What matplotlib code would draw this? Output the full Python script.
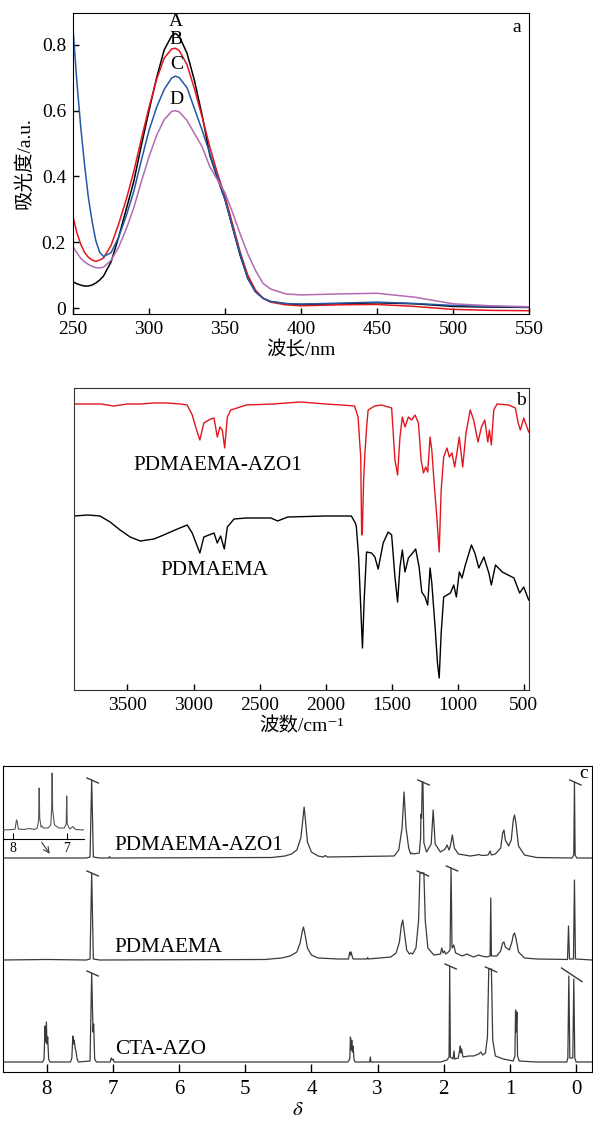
import matplotlib
matplotlib.use("Agg")
import matplotlib.pyplot as plt

plt.rcParams["font.family"] = ["Liberation Serif", "Noto Sans CJK SC", "DejaVu Sans"]
plt.rcParams["mathtext.fontset"] = "stix"
plt.rcParams["axes.unicode_minus"] = False

# ---- (a) UV-vis absorbance ----
wavelength = [250, 252.5, 255, 257.5, 260, 262.5, 265, 267.5, 270, 275, 280, 285, 290,
              295, 300, 305, 310, 315, 317.5, 320, 325, 330, 335, 340, 345, 350, 355,
              360, 365, 370, 375, 380, 390, 400, 425, 450, 475, 500, 525, 550]
abs_A = [0.080, 0.074, 0.070, 0.067, 0.067, 0.070, 0.076, 0.085, 0.097, 0.140, 0.215,
         0.300, 0.385, 0.495, 0.600, 0.700, 0.785, 0.828, 0.835, 0.825, 0.775, 0.690,
         0.585, 0.465, 0.395, 0.330, 0.245, 0.160, 0.090, 0.050, 0.030, 0.020, 0.013,
         0.011, 0.013, 0.016, 0.013, 0.005, 0.003, 0.002]
abs_B = [0.278, 0.230, 0.195, 0.170, 0.155, 0.146, 0.142, 0.146, 0.152, 0.190, 0.255,
         0.330, 0.415, 0.515, 0.610, 0.695, 0.760, 0.788, 0.790, 0.782, 0.740, 0.665,
         0.580, 0.490, 0.410, 0.340, 0.255, 0.170, 0.100, 0.055, 0.030, 0.018, 0.010,
         0.007, 0.010, 0.011, 0.005, -0.004, -0.007, -0.008]
abs_C = [0.850, 0.690, 0.555, 0.440, 0.340, 0.265, 0.205, 0.170, 0.157, 0.168, 0.215,
         0.280, 0.355, 0.450, 0.540, 0.610, 0.665, 0.700, 0.705, 0.700, 0.670, 0.605,
         0.540, 0.470, 0.400, 0.330, 0.245, 0.165, 0.090, 0.050, 0.030, 0.020, 0.014,
         0.012, 0.015, 0.018, 0.014, 0.008, 0.005, 0.003]
abs_D = [0.187, 0.168, 0.152, 0.141, 0.133, 0.127, 0.123, 0.122, 0.124, 0.145, 0.185,
         0.240, 0.305, 0.385, 0.460, 0.525, 0.573, 0.598, 0.600, 0.596, 0.570, 0.530,
         0.490, 0.430, 0.390, 0.350, 0.290, 0.225, 0.165, 0.115, 0.075, 0.058, 0.043,
         0.040, 0.043, 0.045, 0.033, 0.013, 0.007, 0.004]
uv_names = ["A", "B", "C", "D"]
uv_colors = ["black", "#e3161e", "#2557a7", "#b26bb4"]
uv_label_y = [0.870, 0.817, 0.739, 0.634]

# ---- (b) FTIR ----
wn_azo = [3905, 3800, 3700, 3606, 3500, 3400, 3304, 3200, 3100, 3048, 3010, 2977, 2952,
          2922, 2870, 2845, 2820, 2800, 2782, 2764, 2744, 2718, 2600, 2400, 2187, 2000,
          1880, 1781, 1754, 1743, 1734, 1727, 1722, 1712, 1704, 1690, 1678, 1628, 1577,
          1500, 1475, 1455, 1437, 1419, 1399, 1373, 1348, 1323, 1297, 1277, 1259, 1242,
          1227, 1209, 1196, 1176, 1158, 1140, 1125, 1106, 1081, 1063, 1043, 1023, 1006,
          988, 962, 937, 905, 879, 846, 820, 795, 772, 760, 745, 727, 702, 613, 563, 542,
          525, 500, 462]
t_azo = [286, 286, 286, 284, 286, 286, 287, 287, 286, 285, 275, 260, 250,
         267, 271, 272, 253, 263, 260, 242, 273, 280, 285, 286, 288, 286,
         285, 284, 273, 250, 233, 155, 158, 210, 233, 262, 280, 284, 285,
         282, 230, 215, 253, 273, 263, 273, 270, 275, 267, 230, 217, 223,
         218, 253, 240, 203, 173, 138, 200, 233, 242, 233, 237, 223, 237,
         253, 223, 257, 280, 270, 248, 263, 270, 248, 260, 245, 280, 286, 285, 282, 267,
         260, 272, 258]
wn_pd = [3905, 3800, 3708, 3632, 3556, 3480, 3403, 3300, 3226, 3140, 3048, 3010, 2952,
         2922, 2845, 2820, 2795, 2767, 2744, 2693, 2600, 2414, 2363, 2287, 2000, 1805,
         1775, 1767, 1750, 1734, 1721, 1708, 1690, 1652, 1627, 1602, 1564, 1526, 1500,
         1475, 1455, 1437, 1419, 1399, 1373, 1335, 1318, 1292, 1272, 1247, 1227, 1209,
         1196, 1171, 1153, 1140, 1125, 1106, 1081, 1055, 1030, 1010, 988, 967, 942, 896,
         870, 840, 802, 764, 745, 714, 662, 574, 531, 500, 462]
t_pd = [174, 175, 174, 168, 160, 153, 149, 151, 155, 160, 165, 157, 137,
        153, 157, 147, 154, 141, 163, 171, 172, 172, 169, 173, 174, 174,
        167, 163, 133, 83, 42, 90, 138, 137, 133, 121, 147, 158, 155,
        113, 88, 123, 140, 118, 132, 138, 141, 123, 98, 93, 85, 122,
        107, 63, 27, 12, 57, 93, 95, 97, 105, 93, 118, 112, 125, 145,
        137, 122, 133, 117, 105, 125, 118, 112, 97, 103, 90]

# ---- (c) 1H NMR, intensities stacked with offsets ----
azo1_ppm = [8.66, 7.40, 7.345, 7.32, 7.295, 7.20, 7.06, 7.05, 7.04, 4.60, 4.40, 4.30, 4.22,
            4.16, 4.13, 4.11, 4.09, 4.06, 4.00, 3.90, 3.82, 3.79, 3.76, 2.75, 2.68, 2.63,
            2.60, 2.57, 2.53, 2.50, 2.48, 2.46, 2.37, 2.35, 2.345, 2.335, 2.325, 2.315,
            2.30, 2.26, 2.19, 2.16, 2.13, 2.05, 1.98, 1.95, 1.92, 1.90, 1.87, 1.84, 1.78,
            1.60, 1.50, 1.47, 1.42, 1.33, 1.30, 1.28, 1.22, 1.14, 1.11, 1.09, 1.07, 1.02,
            0.98, 0.95, 0.93, 0.91, 0.87, 0.78, 0.60, 0.06, 0.035, 0.025, 0.015, -0.01,
            -0.24]
azo1_int = [0, 0, 1, 78, 1, 0, 0, 1.5, 0, 0.5, 2, 4, 8,
            20, 38, 51, 38, 16, 6, 2, 1, 2.5, 1, 2, 8, 30,
            66, 30, 10, 4, 5, 4, 5, 20, 44, 40, 76, 76,
            15, 6, 14, 48, 14, 6, 9, 13, 8, 12, 23, 10, 4,
            2, 3, 3.5, 2.5, 3, 7, 3, 4, 10, 25, 28, 18, 12,
            18, 38, 43, 35, 12, 3, 0.5, 0, 3, 76, 3, 0,
            0]
pd_ppm = [8.66, 8.0, 7.40, 7.345, 7.32, 7.295, 7.20, 4.70, 4.45, 4.32, 4.22, 4.17, 4.14,
          4.12, 4.10, 4.06, 4.00, 3.90, 3.60, 3.44, 3.42, 3.41, 3.40, 3.385, 3.37, 3.16,
          3.15, 3.14, 2.80, 2.72, 2.67, 2.64, 2.62, 2.60, 2.56, 2.52, 2.50, 2.47, 2.42,
          2.38, 2.36, 2.30, 2.28, 2.24, 2.15, 2.05, 2.03, 2.01, 1.99, 1.97, 1.93, 1.905,
          1.89, 1.875, 1.85, 1.82, 1.72, 1.65, 1.62, 1.55, 1.47, 1.43, 1.35, 1.30, 1.29,
          1.28, 1.20, 1.14, 1.11, 1.09, 1.07, 1.01, 0.97, 0.95, 0.93, 0.91, 0.87, 0.78,
          0.60, 0.13, 0.115, 0.10, 0.04, 0.025, 0.01, -0.24]
pd_int = [0, 0.5, 0, 1, 87, 1, 0, 0.5, 2, 4, 8, 17, 28,
          33, 27, 12, 5, 2, 1, 1, 8, 5, 8, 4, 1, 1,
          2.5, 1, 3, 7, 18, 35, 40, 30, 10, 6, 7, 6, 12,
          40, 87, 87, 40, 12, 5, 6, 12, 7, 9, 6, 8, 10,
          92, 12, 15, 7, 4, 6, 5, 3, 5, 4, 3, 4, 62,
          4, 4, 9, 17, 18, 13, 10, 18, 25, 27, 22, 8, 2,
          1, 0.5, 34, 1, 1, 80, 1, 0]
cta_ppm = [8.66, 8.06, 8.04, 8.025, 8.015, 8.005, 7.995, 7.985, 7.97, 7.95, 7.64, 7.62,
           7.605, 7.595, 7.585, 7.57, 7.555, 7.54, 7.52, 7.345, 7.32, 7.30, 7.29, 7.275,
           7.25, 7.04, 7.025, 7.01, 6.995, 6.98, 3.45, 3.42, 3.41, 3.40, 3.39, 3.38, 3.37,
           3.355, 3.34, 3.12, 3.11, 3.10, 2.05, 1.95, 1.92, 1.91, 1.90, 1.86, 1.845, 1.835,
           1.78, 1.76, 1.75, 1.74, 1.73, 1.71, 1.62, 1.55, 1.47, 1.44, 1.41, 1.37, 1.34,
           1.32, 1.28, 1.26, 1.22, 1.10, 0.95, 0.925, 0.915, 0.905, 0.895, 0.885, 0.86,
           0.60, 0.14, 0.125, 0.11, 0.095, 0.05, 0.035, 0.02, 0.0, -0.24]
cta_int = [0, 0, 3, 36, 20, 40, 18, 25, 3, 0, 0, 4,
           26, 18, 22, 14, 10, 3, 0, 1, 89, 30, 38, 3,
           0, 0, 4, 2, 3, 0, 0, 3, 25, 12, 22, 10, 16,
           2, 0, 0, 5, 0, 0, 2, 5, 96, 5, 3, 11, 3,
           4, 12, 16, 9, 13, 5, 6, 6, 8, 10, 7, 9, 25,
           93, 93, 22, 6, 3, 1, 6, 52, 30, 50, 6, 1,
           0, 0, 4, 86, 4, 4, 83, 4, 0, 0]
nmr_names = ["PDMAEMA-AZO1", "PDMAEMA", "CTA-AZO"]
nmr_offsets = [214, 112, 10]
# truncated peaks get a small slash across the top
cut_azo1 = [7.32, 2.32, 0.025]
cut_pd = [7.32, 2.33, 1.89]
cut_cta = [7.32, 1.91, 1.30]

inset_ppm = [8.185, 8.00, 7.96, 7.945, 7.935, 7.925, 7.915, 7.90, 7.80, 7.70, 7.60, 7.55,
             7.525, 7.515, 7.505, 7.48, 7.46, 7.44, 7.35, 7.30, 7.285, 7.275, 7.265, 7.25,
             7.23, 7.15, 7.05, 7.015, 7.005, 6.995, 6.95, 6.90, 6.885, 6.87, 6.84, 6.685]
inset_int = [0, 0.5, 1, 7, 10, 9, 6, 1, 0.5, 1.5, 0.5, 2,
             10, 42, 12, 3, 4, 2, 2, 5, 20, 57, 20, 13,
             5, 2, 2, 6, 34, 6, 1, 3, 3.5, 2, 0.5, 0]

W, H = 593, 1121
fig = plt.figure(figsize=(W / 100, H / 100), dpi=100)


def px_axes(left, top, right, bottom):
    return fig.add_axes([left / W, 1 - bottom / H, (right - left) / W, (bottom - top) / H])


# ---------------- panel a ----------------
ax_a = px_axes(73, 13, 529, 314)
for name, ys, c, ly in zip(uv_names, [abs_A, abs_B, abs_C, abs_D], uv_colors, uv_label_y):
    ax_a.plot(wavelength, ys, color=c, lw=1.1)
    ax_a.text(318, ly, name, ha="center", va="center", fontsize=14)
ax_a.set_xlim(250, 550)
ax_a.set_ylim(-0.018, 0.897)
ax_a.set_xticks([250, 300, 350, 400, 450, 500, 550])
ax_a.set_yticks([0, 0.2, 0.4, 0.6, 0.8])
ax_a.set_yticklabels(["0", "0.2", "0.4", "0.6", "0.8"])
ax_a.tick_params(direction="in", length=4, width=1, labelsize=14, pad=5)
ax_a.set_xlabel("波长/nm", fontsize=14, labelpad=2)
ax_a.set_ylabel("吸光度/a.u.", fontsize=14, labelpad=6)
ax_a.text(0.974, 0.953, "a", transform=ax_a.transAxes, ha="center", va="center", fontsize=14)

# ---------------- panel b ----------------
ax_b = px_axes(74, 388, 529, 690)
ax_b.plot(wn_azo, t_azo, color="#e3161e", lw=1.0)
ax_b.plot(wn_pd, t_pd, color="black", lw=1.0)
ax_b.text(3459, 225, "PDMAEMA-AZO1", ha="left", va="center", fontsize=15.2)
ax_b.text(3251, 120, "PDMAEMA", ha="left", va="center", fontsize=15.2)
ax_b.set_xlim(3905, 460)
ax_b.set_ylim(0, 302)
ax_b.set_xticks([3500, 3000, 2500, 2000, 1500, 1000, 500])
ax_b.set_yticks([])
ax_b.tick_params(direction="in", length=4, width=1, labelsize=14, pad=5)
ax_b.set_xlabel("波数/cm\u207b\u00b9", fontsize=14, labelpad=2)
ax_b.text(0.982, 0.957, "b", transform=ax_b.transAxes, ha="center", va="center", fontsize=14)
for s in ax_b.spines.values():
    s.set_color("#333333")

# ---------------- panel c ----------------
ax_c = px_axes(3, 766, 592, 1072)
nmr_color = "#3a3a3a"
ppm_px = 66.3  # pixels per ppm on this axis
traces = [(azo1_ppm, azo1_int, cut_azo1), (pd_ppm, pd_int, cut_pd), (cta_ppm, cta_int, cut_cta)]
for (ppm, inten, cuts), off, name in zip(traces, nmr_offsets, nmr_names):
    ax_c.plot(ppm, [v + off for v in inten], color=nmr_color, lw=0.9)
    ax_c.text(6.97, off + 12, name, ha="left", va="center", fontsize=15.2)
    for p in cuts:
        top = off + max(v for q, v in zip(ppm, inten) if abs(q - p) < 0.04)
        ax_c.plot([p + 4.7 / ppm_px, p - 6.6 / ppm_px], [top + 2, top - 3],
                  color=nmr_color, lw=1.0)
# one long slash across the two high-field lines of CTA-AZO
ax_c.plot([0.22, -0.09], [104, 90.3], color=nmr_color, lw=1.0)

ax_c.set_xlim(8.66, -0.24)
ax_c.set_ylim(0, 306)
ax_c.set_xticks(range(8, -1, -1))
ax_c.set_yticks([])
ax_c.tick_params(direction="in", length=6, width=1, labelsize=15, pad=6)
ax_c.set_xlabel(r"$\delta$", fontsize=15, labelpad=1)
ax_c.text(0.985, 0.977, "c", transform=ax_c.transAxes, ha="center", va="center", fontsize=14)
ax_c.annotate("", xy=(7.93, 216), xytext=(8.10, 232),
              arrowprops=dict(arrowstyle="->", color=nmr_color, lw=0.8))

# inset with the aromatic region
ax_in = px_axes(3, 766, 84, 839)
ax_in.plot(inset_ppm, [v + 9 for v in inset_int], color="#555555", lw=0.8)
ax_in.set_xlim(8.185, 6.685)
ax_in.set_ylim(0, 73)
ax_in.set_xticks([8, 7])
ax_in.set_yticks([])
ax_in.tick_params(direction="in", length=4, width=0.8, labelsize=10, pad=2)
for side in ["top", "right", "left"]:
    ax_in.spines[side].set_visible(False)
ax_in.spines["bottom"].set_linewidth(0.8)
ax_in.patch.set_alpha(0)

fig.savefig("out.png", dpi=100)
